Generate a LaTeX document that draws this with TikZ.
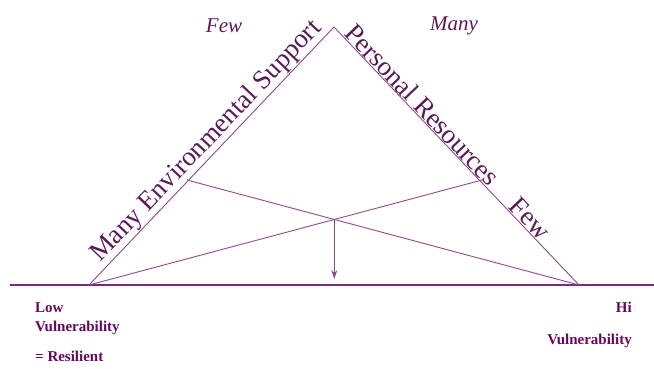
\documentclass[tikz,border=0pt]{standalone}
\usepackage{fontspec}
\setmainfont{Liberation Serif}
\usepackage{tikz}
\usetikzlibrary{arrows.meta, intersections}
\definecolor{linepurple}{HTML}{8E4A8E}
\definecolor{basepurple}{HTML}{7A2C78}
\definecolor{textpurple}{HTML}{5A1A58}
\definecolor{labelpurple}{HTML}{66085F}

\begin{document}
\begin{tikzpicture}[
    x=1pt, y=-1pt,
    >={Stealth[length=9pt, width=6pt]},
    side/.style={draw=linepurple, line width=0.9pt},
    base/.style={draw=basepurple, line width=1.6pt},
    sidetext/.style={font=\fontsize{27}{30}\selectfont, text=textpurple, inner sep=1pt},
    endtext/.style={font=\itshape\fontsize{21}{24}\selectfont, text=textpurple},
    vlabel/.style={font=\bfseries\fontsize{15}{18}\selectfont, text=labelpurple, inner sep=0pt},
]
\useasboundingbox (0,0) rectangle (654,368);

% ── Triangle corners ──────────────────────────────────────────────────────
\coordinate (apex) at (334,27);
\coordinate (lowL) at (89,285);
\coordinate (hiR) at (579,285);
\coordinate (envpt) at (187,180);
\coordinate (respt) at (482,180);
\coordinate (axisL) at (10,285);
\coordinate (axisR) at (654,285);

% ── Base line and sides ───────────────────────────────────────────────────
\draw[base] (axisL) -- (axisR);
\draw[side] (lowL) -- (apex) -- (hiR);

% ── Crossing lines ────────────────────────────────────────────────────────
\draw[side, name path=envline] (envpt) -- (hiR);
\draw[side, name path=resline] (respt) -- (lowL);
\path[name intersections={of=envline and resline, by=cross}];
\coordinate (foot) at (cross |- 0,279);
\draw[side, ->] (cross) -- (foot);

% ── Side labels ───────────────────────────────────────────────────────────
\path (lowL) -- (apex)
    node[sidetext, sloped, above, pos=0.52] (envlabel) {Many Environmental Support};
\path (apex) -- (hiR)
    node[sidetext, sloped, above, pos=0.33] (reslabel) {Personal Resources}
    node[sidetext, sloped, above, pos=0.77] (resfew) {Few};

% ── Top labels ────────────────────────────────────────────────────────────
\node[endtext] (envfew) at (224,26) {Few};
\node[endtext] (resmany) at (454,26) {Many};

% ── Vulnerability labels ──────────────────────────────────────────────────
\node[vlabel, anchor=north west] (low) at (35,302) {Low};
\node[vlabel, anchor=north west] (lowvul) at (35,321) {Vulnerability};
\node[vlabel, anchor=north west] (resil) at (35,351) {= Resilient};
\node[vlabel, anchor=north east] (hi) at (632,302) {Hi};
\node[vlabel, anchor=north east] (hivul) at (632,334) {Vulnerability};

\end{tikzpicture}
\end{document}
